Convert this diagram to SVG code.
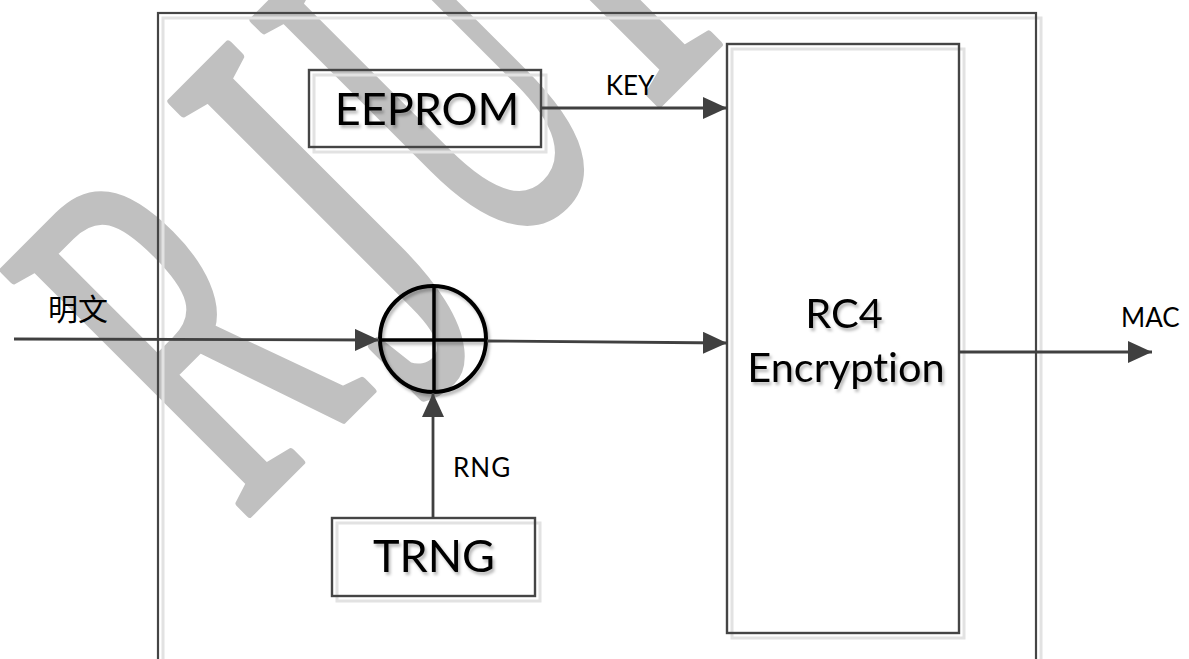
<svg xmlns="http://www.w3.org/2000/svg" width="1189" height="659" viewBox="0 0 1189 659">
  <defs>
    <style>
      .frame { fill: none; stroke: #454545; stroke-width: 2.2; }
      .box { fill: none; stroke: #454545; stroke-width: 2.4; }
      .shade { fill: none; stroke: #e2e2e2; stroke-width: 3; }
      .wire { fill: none; stroke: #404040; stroke-width: 2.8; }
      text { font-variant-ligatures: none; }
      .big { font-family: Lato, "Liberation Sans", sans-serif; font-size: 45px; fill: #000; text-anchor: middle; }
      .mid { font-family: Lato, "Liberation Sans", sans-serif; font-size: 41.5px; fill: #000; text-anchor: middle; }
      .tag { font-family: Lato, "Liberation Sans", sans-serif; font-size: 26px; fill: #000; }
      .cjk { font-family: "Noto Sans CJK SC", sans-serif; font-size: 30px; fill: #000; }
      .mark { font-family: "Liberation Serif", serif; font-size: 330px; fill: #c0c0c0; stroke: #c0c0c0; stroke-width: 5; stroke-linejoin: round; }
    </style>
    <filter id="softshadow" x="-20%" y="-20%" width="140%" height="160%">
      <feGaussianBlur in="SourceAlpha" stdDeviation="1.6"/>
      <feOffset dx="2" dy="3" result="b"/>
      <feFlood flood-color="#000" flood-opacity="0.28"/>
      <feComposite in2="b" operator="in"/>
      <feMerge>
        <feMergeNode/>
        <feMergeNode in="SourceGraphic"/>
      </feMerge>
    </filter>
    <marker id="arrow" markerUnits="userSpaceOnUse" markerWidth="24" markerHeight="22" refX="24" refY="11" orient="auto">
      <path d="M0,0 L24,11 L0,22 z" fill="#404040"/>
    </marker>
  </defs>

  <rect width="1189" height="659" fill="#fff"/>

  <!-- background watermark lettering, set along a 45° baseline -->
  <g id="watermark" transform="translate(247,516) rotate(-45)">
    <g transform="translate(-8,0) scale(0.85,1.6)"><text class="mark">R</text></g>
    <g transform="translate(200,43) scale(1,1.8)"><text class="mark">J</text></g>
    <g transform="translate(348,0) scale(0.8,1.6)"><text class="mark">U</text></g>
    <g transform="translate(570,0) scale(1,1.6)"><text class="mark">I</text></g>
  </g>

  <!-- outer enclosure -->
  <g id="enclosure">
    <rect class="shade" x="163" y="18" width="878" height="700"/>
    <rect class="frame" x="158" y="13" width="878" height="700"/>
  </g>

  <g id="eeprom">
    <rect class="shade" x="314" y="75" width="232" height="77"/>
    <rect class="box" x="309" y="70" width="232" height="77"/>
    <text class="big" x="427" y="125" filter="url(#softshadow)">EEPROM</text>
  </g>

  <g id="rc4">
    <rect class="shade" x="732" y="49" width="232" height="589"/>
    <rect class="box" x="727" y="44" width="232" height="589"/>
    <text class="mid" x="844" y="328" filter="url(#softshadow)">RC4</text>
    <text class="mid" x="846" y="382" font-size="42.5" filter="url(#softshadow)">Encryption</text>
  </g>

  <g id="trng">
    <rect class="shade" x="337" y="523" width="203" height="78"/>
    <rect class="box" x="332" y="518" width="203" height="78"/>
    <text class="big" x="434" y="572" filter="url(#softshadow)">TRNG</text>
  </g>

  <g id="xor">
    <g filter="url(#softshadow)">
      <circle cx="433" cy="339" r="53" fill="none" stroke="#000" stroke-width="4"/>
      <line x1="380" y1="340" x2="486" y2="340" stroke="#000" stroke-width="3.5"/>
      <line x1="434" y1="286" x2="434" y2="392" stroke="#000" stroke-width="3.5"/>
    </g>
  </g>

  <g id="connectors">
    <path class="wire" d="M14,339 L379,340" marker-end="url(#arrow)"/>
    <path class="wire" d="M487,341 L727,343" marker-end="url(#arrow)"/>
    <path class="wire" d="M541,108 L727,108" marker-end="url(#arrow)"/>
    <path class="wire" d="M433,518 L433,393" marker-end="url(#arrow)"/>
    <path class="wire" d="M959,352 L1152,352" marker-end="url(#arrow)"/>
  </g>

  <g id="labels">
    <text class="cjk" x="48" y="320">明文</text>
    <text class="tag" x="630" y="95" text-anchor="middle">KEY</text>
    <text class="tag" x="453" y="477" letter-spacing="1">RNG</text>
    <text class="tag" x="1121" y="327" font-size="27">MAC</text>
  </g>
</svg>
